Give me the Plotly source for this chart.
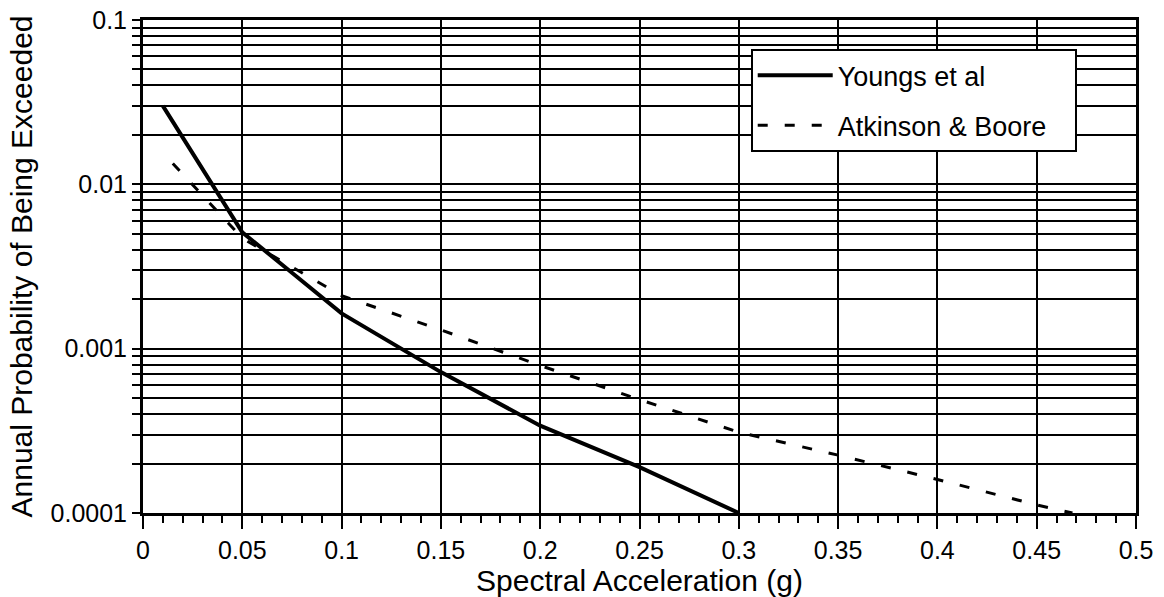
import plotly.graph_objects as go

# Data
youngs_x = [0.01, 0.05, 0.075, 0.1, 0.15, 0.2, 0.25, 0.3]
youngs_y = [0.030, 0.0051, 0.0029, 0.00164, 0.00072, 0.00034, 0.00019, 0.0001]

ab_x = [0.015, 0.05, 0.1, 0.15, 0.2, 0.25, 0.3, 0.35, 0.4, 0.45, 0.468]
ab_y = [0.0134, 0.0047, 0.0021, 0.0013, 0.00079, 0.00049, 0.00031, 0.000225, 0.00016, 0.000112, 0.0001]

y_tickvals = [m * 10.0 ** e for e in (-4, -3, -2) for m in range(1, 10)] + [0.1]
y_ticktext = []
for v in y_tickvals:
    labels = {1e-4: "0.0001", 1e-3: "0.001", 1e-2: "0.01", 1e-1: "0.1"}
    lab = ""
    for k, t in labels.items():
        if abs(v - k) / k < 1e-6:
            lab = t
    y_ticktext.append(lab)

x_tickvals = [i * 0.05 for i in range(11)]
x_ticktext = ["0", "0.05", "0.1", "0.15", "0.2", "0.25", "0.3", "0.35", "0.4", "0.45", "0.5"]

FONT = "Liberation Sans, Arial, Helvetica, sans-serif"
PAD = "\u00a0\u00a0\u00a0"

fig = go.Figure()
fig.add_trace(go.Scatter(x=youngs_x, y=youngs_y, mode="lines", name="Youngs et al" + PAD,
                         legendgroup="a",
                         line=dict(color="black", width=4)))
fig.add_trace(go.Scatter(x=ab_x, y=ab_y, mode="lines", name="Atkinson & Boore" + PAD,
                         legendgroup="b",
                         line=dict(color="black", width=3, dash="10px,17px")))

fig.update_layout(
    width=1164, height=597,
    margin=dict(l=143, r=28, t=20, b=84, autoexpand=False),
    paper_bgcolor="white", plot_bgcolor="white",
    font=dict(family=FONT, size=25, color="black"),
    legend=dict(x=0.612, y=0.941, xanchor="left", yanchor="top",
                bgcolor="white", bordercolor="black", borderwidth=2,
                font=dict(size=27), tracegroupgap=12, itemwidth=75,
                traceorder="grouped"),
    showlegend=True,
)
fig.update_xaxes(
    range=[0, 0.5], tickvals=x_tickvals, ticktext=x_ticktext,
    showgrid=True, gridcolor="black", gridwidth=2,
    showline=True, linecolor="black", linewidth=3, mirror=True,
    ticks="outside", ticklen=13, tickwidth=2, tickcolor="black",
    minor=dict(ticks="outside", dtick=0.01, ticklen=7, tickwidth=2, tickcolor="black", showgrid=False),
    zeroline=False,
    title=dict(text="Spectral Acceleration (g)", standoff=4),
    automargin=False,
)
fig.update_yaxes(
    type="log", range=[-4, -1], tickvals=y_tickvals, ticktext=y_ticktext,
    showgrid=True, gridcolor="black", gridwidth=2,
    showline=True, linecolor="black", linewidth=3, mirror=True,
    ticks="outside", ticklen=8, tickwidth=2, tickcolor="black",
    zeroline=False,
    title=dict(text="Annual Probability of Being Exceeded", standoff=10),
    automargin=False,
)

fig.write_html("out.html")
